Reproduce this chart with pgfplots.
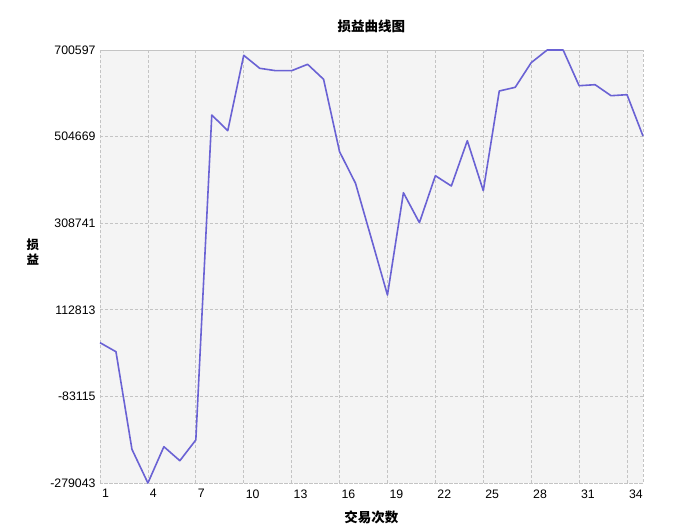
\documentclass[border=0pt]{standalone}
\usepackage{pgfplots}
\pgfplotsset{compat=1.18}
\usepackage{fontspec}
\setmainfont{Liberation Sans}
\newfontfamily\cjk{Noto Sans CJK SC}
\definecolor{linec}{RGB}{106,98,212}
\definecolor{gridc}{RGB}{196,196,196}
\definecolor{bgc}{RGB}{244,244,244}
\pgfplotstableread{
x y
1 38400
2 18000
3 -202800
4 -279043
5 -196900
6 -228600
7 -181700
8 553500
9 518000
10 688600
11 659200
12 653800
13 653800
14 668200
15 634300
16 470500
17 399000
18 273000
19 146300
20 377700
21 309900
22 416200
23 392900
24 495400
25 382300
26 607800
27 616200
28 671900
29 700597
30 700597
31 619800
32 622100
33 597200
34 599500
35 506000
}\datatable
\begin{document}
\begin{tikzpicture}
\useasboundingbox (-100pt,-48pt) rectangle (573pt,483pt);
\begin{axis}[
  at={(0,0)}, anchor=south west,
  scale only axis,
  width=543pt, height=433pt,
  xmin=1, xmax=35,
  ymin=-279043, ymax=700597,
  scaled y ticks=false, scaled x ticks=false,
  xtick={1,4,7,10,13,16,19,22,25,28,31,34},
  xticklabels={1,4,7,10,13,16,19,22,25,28,31,34},
  ytick={-279043,-83115,112813,308741,504669,700597},
  yticklabels={-279043,-83115,112813,308741,504669,700597},
  major tick length=0pt,
  tick label style={font=\fontsize{12.3}{13}\selectfont},
  x tick label style={anchor=north west, xshift=-1.5pt, yshift=-3pt},
  y tick label style={anchor=east, xshift=-1pt},
  grid=major,
  major grid style={gridc, line width=0.8pt, dash pattern=on 3pt off 2pt},
  axis line style={gridc, line width=0.8pt, dash pattern=on 3pt off 2pt},
  axis background/.style={fill=bgc},
  clip=false,
  title={损益曲线图},
  title style={font=\cjk\bfseries\fontsize{13.5}{14}\selectfont, at={(axis description cs:0.5,1)}, anchor=base, yshift=12pt},
  xlabel={交易次数},
  xlabel style={font=\cjk\bfseries\fontsize{13.5}{14}\selectfont, at={(axis description cs:0.5,0)}, anchor=base, yshift=-39.5pt},
  ylabel={\shortstack{损\\益}},
  ylabel style={font=\cjk\bfseries\fontsize{12.5}{12.5}\selectfont, at={(axis description cs:-0.1234,0.533)}, anchor=center, rotate=-90},
]
\addplot[linec, line width=1.6pt, line join=round, mark=none] table[x=x,y=y] {\datatable};
\end{axis}
\end{tikzpicture}
\end{document}
